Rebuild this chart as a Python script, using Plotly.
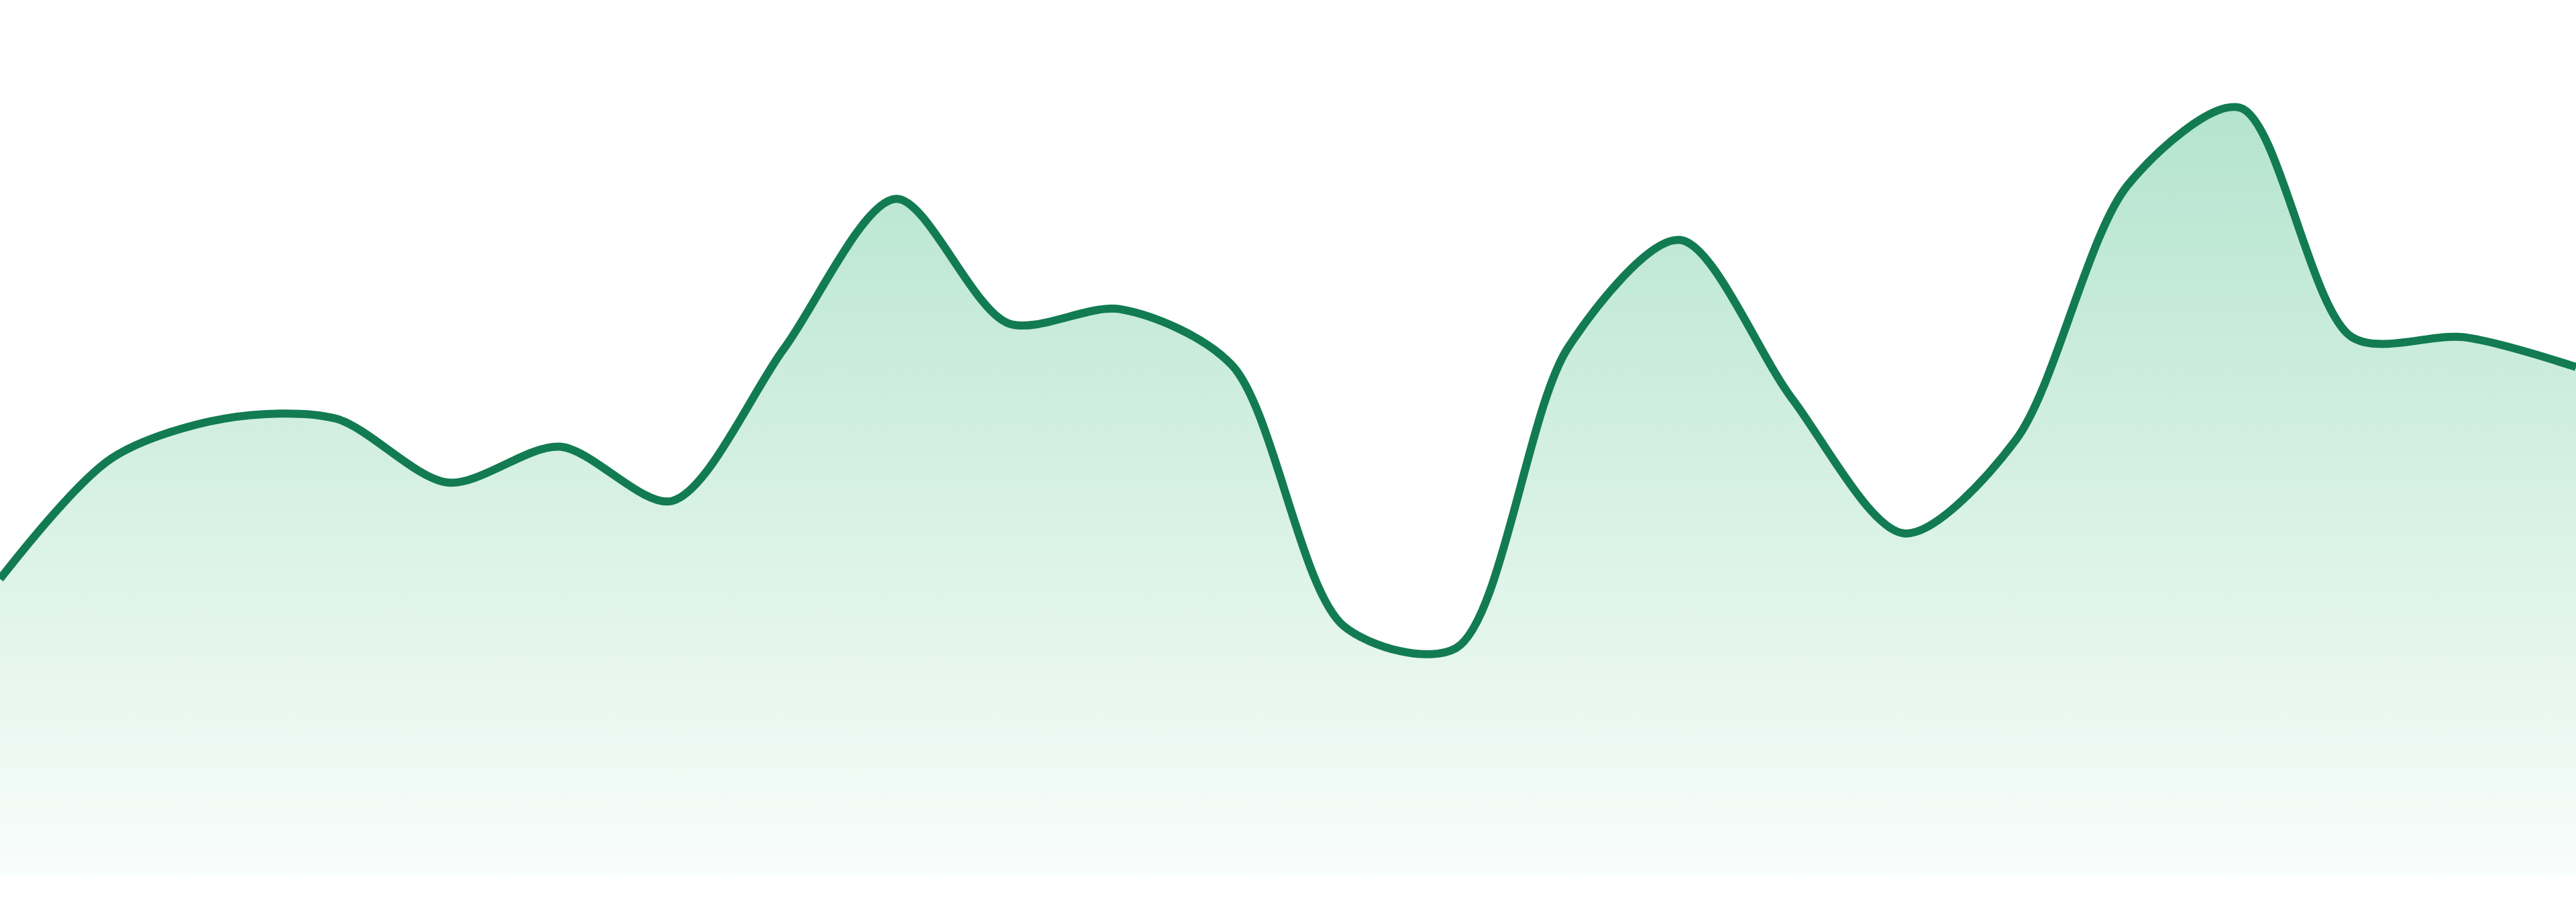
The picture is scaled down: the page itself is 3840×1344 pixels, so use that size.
import plotly.graph_objects as go

# 24 evenly spaced samples, left edge to right edge
x_index = list(range(24))
values = [33.9, 47.7, 52.2, 52.2, 44.9, 49.0, 42.8, 60.2, 77.3, 63.1, 64.7, 58.3,
          28.5, 26.0, 60.3, 72.6, 54.5, 39.1, 49.8, 78.9, 87.7, 61.5, 61.5, 58.1]

LINE_COLOR = "#127b52"


def build_figure():
    fig = go.Figure(data=[go.Scatter(
        x=x_index,
        y=values,
        mode='lines',
        line=dict(color=LINE_COLOR, width=12, shape='spline', smoothing=0.85),
        fill='tozeroy',
        fillgradient=dict(
            type='vertical',
            colorscale=[[0, '#f9fdfb'], [1, '#b4e4ce']],
        ),
        hoverinfo='skip',
        showlegend=False
    )])

    fig.update_layout(
        width=3840,
        height=1344,
        margin=dict(l=0, r=0, t=0, b=39),
        paper_bgcolor='white',
        plot_bgcolor='white',
        xaxis=dict(range=[0, 23], visible=False, fixedrange=True),
        yaxis=dict(range=[0, 100], visible=False, fixedrange=True),
    )
    return fig


if __name__ == "__main__":
    fig = build_figure()
    # drop the default body margin so the chart sits flush in the window
    fig.write_html("out.html", config={'displayModeBar': False},
                   post_script="document.body.style.margin = '0px';")
